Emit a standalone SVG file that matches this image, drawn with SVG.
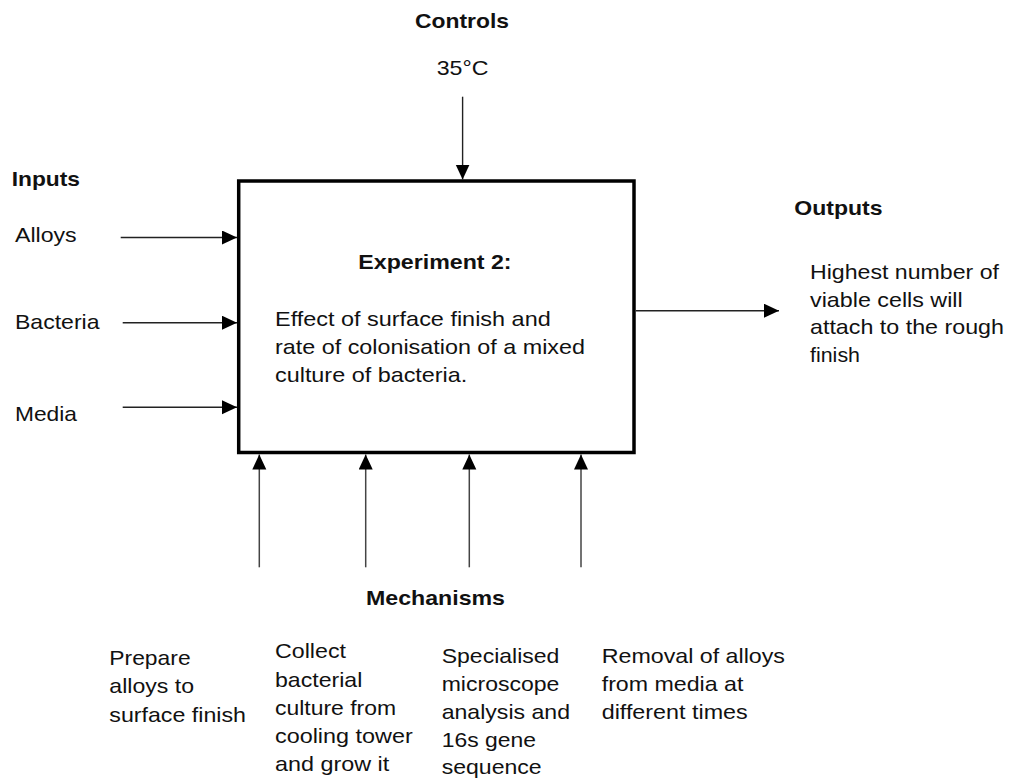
<svg xmlns="http://www.w3.org/2000/svg" width="1012" height="778" viewBox="0 0 1012 778">
<style>
text{font-family:"Liberation Sans",Arial,Helvetica,sans-serif;font-size:21px;fill:#111}
.b{font-weight:bold}
.c{stroke:#222;stroke-width:1.4;fill:none}
.m{stroke:#444;stroke-width:1.5;fill:none}
</style>
<defs>
<marker id="ah" markerUnits="userSpaceOnUse" markerWidth="16" markerHeight="15" refX="15" refY="7" orient="auto">
<path d="M0,0 L15,7 L0,14 Z" fill="#000"/>
</marker>
</defs>
<rect width="1012" height="778" fill="#fff"/>
<g id="process">
<rect x="238.7" y="181" width="395.3" height="271.5" fill="#fff" stroke="#000" stroke-width="3.5"/>
<text class="b" x="358.3" y="269.3" textLength="153.3" lengthAdjust="spacingAndGlyphs">Experiment 2:</text>
<text x="275" y="325.7" textLength="275.7" lengthAdjust="spacingAndGlyphs">Effect of surface finish and</text>
<text x="275" y="354" textLength="310" lengthAdjust="spacingAndGlyphs">rate of colonisation of a mixed</text>
<text x="275" y="381.7" textLength="192.3" lengthAdjust="spacingAndGlyphs">culture of bacteria.</text>
</g>
<g id="controls">
<text class="b" x="415" y="28.3" textLength="94" lengthAdjust="spacingAndGlyphs">Controls</text>
<text x="436.7" y="75" textLength="51.7" lengthAdjust="spacingAndGlyphs">35°C</text>
</g>
<g id="inputs">
<text class="b" x="11.7" y="186" textLength="68.3" lengthAdjust="spacingAndGlyphs">Inputs</text>
<text x="15" y="242" textLength="61.7" lengthAdjust="spacingAndGlyphs">Alloys</text>
<text x="15" y="329.3" textLength="84.5" lengthAdjust="spacingAndGlyphs">Bacteria</text>
<text x="15" y="420.7" textLength="62" lengthAdjust="spacingAndGlyphs">Media</text>
</g>
<g id="outputs">
<text class="b" x="794.3" y="215" textLength="88.3" lengthAdjust="spacingAndGlyphs">Outputs</text>
<text x="810" y="279" textLength="189" lengthAdjust="spacingAndGlyphs">Highest number of</text>
<text x="810" y="306.7" textLength="152.7" lengthAdjust="spacingAndGlyphs">viable cells will</text>
<text x="810" y="334" textLength="194" lengthAdjust="spacingAndGlyphs">attach to the rough</text>
<text x="810" y="361.7" textLength="50" lengthAdjust="spacingAndGlyphs">finish</text>
</g>
<g id="mechanisms">
<text class="b" x="366" y="605" textLength="139" lengthAdjust="spacingAndGlyphs">Mechanisms</text>
</g>
<g id="mech-prepare">
<text x="109.3" y="665" textLength="81.3" lengthAdjust="spacingAndGlyphs">Prepare</text>
<text x="109.3" y="693" textLength="84.7" lengthAdjust="spacingAndGlyphs">alloys to</text>
<text x="109.3" y="721.7" textLength="136.7" lengthAdjust="spacingAndGlyphs">surface finish</text>
</g>
<g id="mech-collect">
<text x="275" y="658" textLength="71" lengthAdjust="spacingAndGlyphs">Collect</text>
<text x="275" y="686.7" textLength="87.3" lengthAdjust="spacingAndGlyphs">bacterial</text>
<text x="275" y="715" textLength="121" lengthAdjust="spacingAndGlyphs">culture from</text>
<text x="275" y="743" textLength="137.7" lengthAdjust="spacingAndGlyphs">cooling tower</text>
<text x="275" y="770.7" textLength="114.3" lengthAdjust="spacingAndGlyphs">and grow it</text>
</g>
<g id="mech-analysis">
<text x="441.7" y="662.7" textLength="117.7" lengthAdjust="spacingAndGlyphs">Specialised</text>
<text x="441.7" y="691" textLength="117.7" lengthAdjust="spacingAndGlyphs">microscope</text>
<text x="441.7" y="718.5" textLength="128.3" lengthAdjust="spacingAndGlyphs">analysis and</text>
<text x="441.7" y="746.7" textLength="94.3" lengthAdjust="spacingAndGlyphs">16s gene</text>
<text x="441.7" y="773.5" textLength="100" lengthAdjust="spacingAndGlyphs">sequence</text>
</g>
<g id="mech-removal">
<text x="601.7" y="662.7" textLength="183.3" lengthAdjust="spacingAndGlyphs">Removal of alloys</text>
<text x="601.7" y="691" textLength="141.7" lengthAdjust="spacingAndGlyphs">from media at</text>
<text x="601.7" y="718.5" textLength="146" lengthAdjust="spacingAndGlyphs">different times</text>
</g>
<g id="connectors">
<line class="c" x1="462.6" y1="96.7" x2="462.6" y2="179.5" marker-end="url(#ah)"/>
<line class="c" x1="120.7" y1="237.5" x2="237" y2="237.5" marker-end="url(#ah)"/>
<line class="c" x1="122.7" y1="322.7" x2="237" y2="322.7" marker-end="url(#ah)"/>
<line class="c" x1="122.7" y1="407.3" x2="237" y2="407.3" marker-end="url(#ah)"/>
<line class="c" x1="635.7" y1="310.7" x2="779" y2="310.7" marker-end="url(#ah)"/>
<line class="m" x1="259.3" y1="567.3" x2="259.3" y2="454.5" marker-end="url(#ah)"/>
<line class="m" x1="365.7" y1="567.3" x2="365.7" y2="454.5" marker-end="url(#ah)"/>
<line class="m" x1="469.3" y1="567.3" x2="469.3" y2="454.5" marker-end="url(#ah)"/>
<line class="m" x1="581" y1="567.3" x2="581" y2="454.5" marker-end="url(#ah)"/>
</g>
</svg>
